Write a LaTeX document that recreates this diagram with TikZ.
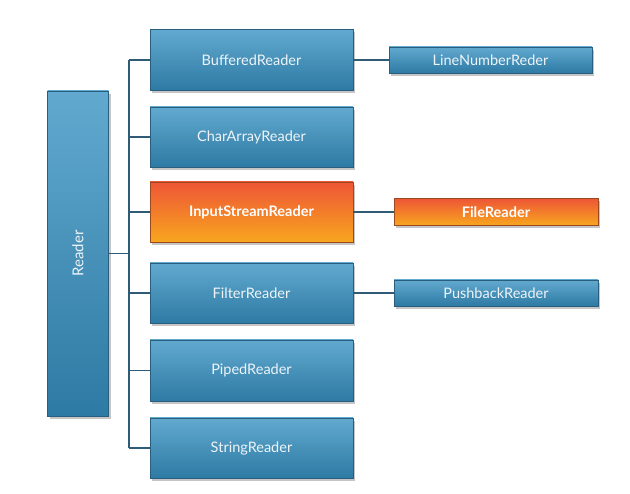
\documentclass[tikz,border=0pt]{standalone}
\usepackage{fontspec}
\setmainfont{Lato}
\usetikzlibrary{shadows}
\definecolor{bluetop}{HTML}{62A9CF}
\definecolor{bluebot}{HTML}{2D7AA4}
\definecolor{blueedge}{HTML}{2A5E7E}
\definecolor{orgtop}{HTML}{EE5536}
\definecolor{orgbot}{HTML}{F8A61E}
\definecolor{orgedge}{HTML}{9A4A1E}
\definecolor{linecol}{HTML}{2E5C76}
\definecolor{txt}{HTML}{EEF4F8}
\tikzset{
  bluebox/.style={draw=blueedge, line width=0.8pt, top color=bluetop, bottom color=bluebot,
    text=txt, font=\fontsize{14.5}{17}\selectfont, inner sep=0pt,
    drop shadow={shadow xshift=2pt, shadow yshift=-3pt, opacity=0.45}},
  orangebox/.style={draw=orgedge, line width=0.8pt, top color=orgtop, bottom color=orgbot,
    text=white, font=\fontsize{14.5}{17}\selectfont\bfseries, inner sep=0pt,
    drop shadow={shadow xshift=2pt, shadow yshift=-3pt, opacity=0.45}},
  conn/.style={draw=linecol, line width=1.8pt}
}
\begin{document}
\begin{tikzpicture}[x=1pt,y=-1pt]
\useasboundingbox (0,0) rectangle (630,494);
\fill[white] (0,0) rectangle (630,494);
% trunk
\coordinate (ttop) at (129,60);
\coordinate (tbot) at (129,448);
\draw[conn] (ttop) -- (tbot);
% nodes
\node[bluebox, minimum width=61pt, minimum height=325pt] (rd) at (78,253.5) {};
\node[text=txt, font=\fontsize{15}{17}\selectfont, rotate=90] (rdl) at (rd.center) {Reader};
\node[bluebox, minimum width=203pt, minimum height=61pt] (br) at (251.5,60) {BufferedReader};
\node[bluebox, minimum width=203pt, minimum height=60pt] (car) at (251.5,137) {CharArrayReader};
\node[orangebox, minimum width=203pt, minimum height=60pt] (isr) at (251.5,212) {InputStreamReader};
\node[bluebox, minimum width=203pt, minimum height=60pt] (fil) at (251.5,293) {FilterReader};
\node[bluebox, minimum width=203pt, minimum height=61pt] (pip) at (251.5,370.5) {PipedReader};
\node[bluebox, minimum width=203pt, minimum height=60pt] (str) at (251.5,448) {StringReader};
\node[bluebox, minimum width=203pt, minimum height=26pt] (lnr) at (490.5,60) {LineNumberReder};
\node[orangebox, minimum width=204pt, minimum height=27pt] (fr) at (496,212) {FileReader};
\node[bluebox, minimum width=204pt, minimum height=26pt] (pb) at (496,293) {PushbackReader};
% connectors
\draw[conn] (rd.east) -- (rd.east -| ttop);
\foreach \n in {br,car,isr,fil,pip,str}{
  \draw[conn] (\n.west) -- (\n.west -| ttop);
}
\draw[conn] (br.east) -- (lnr.west);
\draw[conn] (isr.east) -- (fr.west);
\draw[conn] (fil.east) -- (pb.west);
\end{tikzpicture}
\end{document}
